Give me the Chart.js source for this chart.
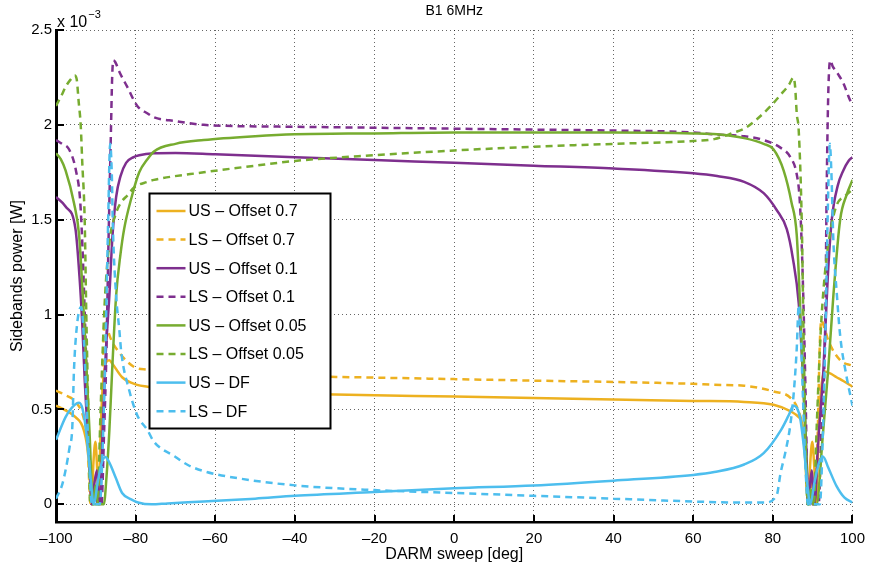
<!DOCTYPE html>
<html>
<head>
<meta charset="utf-8">
<script src="https://cdn.jsdelivr.net/npm/chart.js@4.4.1/dist/chart.umd.min.js"></script>
<style>
  html, body { margin: 0; padding: 0; background: #fff; }
</style>
</head>
<body>
<canvas id="sidebandChart" width="873" height="570"></canvas>
<script>
// axis ticks (power values are in units of 1e-3 W)
const sweepTicks = [-100, -80, -60, -40, -20, 0, 20, 40, 60, 80, 100];
const powerTicks = [0, 0.5, 1, 1.5, 2, 2.5];

const seriesLabels = [
  "US \u2013 Offset 0.7",
  "LS \u2013 Offset 0.7",
  "US \u2013 Offset 0.1",
  "LS \u2013 Offset 0.1",
  "US \u2013 Offset 0.05",
  "LS \u2013 Offset 0.05",
  "US \u2013 DF",
  "LS \u2013 DF",
];

// [sweep deg, power x1e-3 W]
const usOffset07 = [[-100,0.52],[-97.6,0.495],[-95.1,0.46],[-93,0.39],[-91.8,0.24],[-91.1,0],[-90.6,0.22],[-90.1,0.33],[-89.7,0.2],[-89.3,0],[-88.8,0.38],[-88.2,0.64],[-87.4,0.75],[-86.6,0.76],[-85.8,0.74],[-83.4,0.67],[-79.6,0.63],[-77,0.62],[-70,0.6],[-60,0.59],[-40,0.583],[-20,0.575],[0,0.568],[20,0.56],[40,0.553],[60,0.545],[72.8,0.54],[80.2,0.525],[84.5,0.49],[86.5,0.46],[87.3,0.43],[88,0.28],[88.9,0],[89.4,0.22],[89.9,0.33],[90.4,0.2],[90.9,0],[91.5,0.38],[92.2,0.62],[93,0.7],[94.4,0.69],[96,0.67],[97.7,0.65],[100,0.62]];
const lsOffset07 = [[-100,0.6],[-97.6,0.575],[-95.1,0.54],[-93,0.45],[-92.1,0.33],[-91.3,0],[-90.4,0.12],[-89.4,0],[-88.7,0.3],[-88.2,0.75],[-87.8,0.97],[-87.2,0.93],[-86,0.86],[-84.1,0.8],[-82,0.75],[-80,0.72],[-77,0.71],[-70,0.69],[-60,0.68],[-40,0.675],[-20,0.668],[0,0.66],[20,0.652],[40,0.645],[60,0.635],[65.3,0.63],[72.8,0.625],[80.2,0.595],[84.5,0.56],[86.5,0.49],[87.5,0.4],[88.3,0.2],[88.9,0],[89.8,0.12],[90.7,0],[91.3,0.4],[91.8,0.85],[92.2,0.97],[92.8,0.94],[94,0.86],[96.9,0.76],[100,0.73]];
const usOffset01 = [[-100,1.62],[-97.6,1.57],[-95.1,1.45],[-94.1,1.2],[-93.4,0.95],[-92.8,0.66],[-91.8,0.3],[-90.9,0],[-90.3,0.12],[-89.7,0.18],[-89.3,0.05],[-89,0],[-88.2,0.45],[-87.5,0.8],[-86.6,1.1],[-85.8,1.42],[-84.9,1.62],[-83.8,1.73],[-82.4,1.8],[-80.5,1.83],[-79.1,1.84],[-75.4,1.85],[-70,1.852],[-60,1.845],[-40,1.83],[-20,1.815],[0,1.8],[20,1.785],[40,1.77],[60,1.745],[66,1.73],[72.8,1.7],[77.7,1.64],[81,1.55],[83.5,1.45],[85,1.3],[86.5,1.06],[87.5,0.7],[88.3,0.35],[89,0],[89.4,0.12],[89.8,0.18],[90.2,0.05],[90.5,0],[91.3,0.3],[92.7,0.71],[93.8,1.2],[94.8,1.5],[96.3,1.68],[97.7,1.76],[99,1.81],[100,1.83]];
const lsOffset01 = [[-100,1.92],[-98.5,1.9],[-96.7,1.87],[-95,1.76],[-93.9,1.59],[-93.2,1.27],[-92.4,0.75],[-91.6,0.25],[-91,0],[-90.2,0.08],[-89.4,0],[-88.6,0],[-87.9,0.4],[-87.4,0.75],[-86.8,1.4],[-86.2,1.97],[-85.9,2.25],[-85.6,2.34],[-85.1,2.33],[-84.1,2.28],[-82.1,2.2],[-79.6,2.1],[-77,2.06],[-75.4,2.04],[-70,2.02],[-62.9,2.0],[-40,1.99],[-20,1.985],[0,1.98],[20,1.975],[40,1.97],[60,1.96],[65.3,1.95],[72.8,1.94],[77.7,1.92],[81.9,1.88],[84.4,1.83],[86,1.74],[86.7,1.62],[87.2,1.4],[87.7,1.05],[88.2,0.6],[88.8,0],[89.4,0.08],[90,0],[91.5,0],[92.2,0.4],[92.9,0.7],[93.2,1.0],[93.5,1.62],[93.9,2.15],[94.4,2.34],[95,2.31],[96.3,2.27],[97.7,2.22],[99,2.15],[100,2.1]];
const usOffset005 = [[-100,1.85],[-98.8,1.82],[-97.6,1.76],[-95.5,1.59],[-94.2,1.42],[-93.4,1.15],[-92.8,0.92],[-91.6,0.39],[-90.7,0],[-90.1,0.1],[-89.4,0],[-88,0],[-87.3,0.15],[-86.6,0.39],[-85.8,0.75],[-84.9,1.1],[-83.8,1.32],[-82.9,1.45],[-81,1.62],[-79.1,1.75],[-77,1.82],[-75.4,1.86],[-70,1.9],[-62.9,1.92],[-50,1.94],[-40,1.95],[-20,1.955],[0,1.96],[20,1.96],[40,1.96],[60,1.955],[66,1.95],[72.8,1.93],[77.7,1.9],[80.2,1.87],[82.7,1.76],[84.7,1.59],[86,1.42],[87,0.97],[88,0.45],[88.9,0],[89.5,0.08],[90.1,0],[91,0],[92.5,0.35],[93.9,0.71],[95.2,1.1],[96.9,1.5],[98.5,1.63],[100,1.71]];
const lsOffset005 = [[-100,2.1],[-98.5,2.16],[-97.6,2.2],[-96.3,2.24],[-95.3,2.26],[-94.8,2.24],[-94.3,2.12],[-93.8,2.0],[-93.4,1.8],[-92.8,1.5],[-92.4,1.01],[-91.9,0.5],[-91.4,0],[-89.6,0],[-88.8,0.5],[-87.8,1.05],[-86.6,1.38],[-85,1.53],[-83.7,1.59],[-82,1.63],[-80.4,1.67],[-77,1.7],[-75.4,1.71],[-62.9,1.75],[-50,1.785],[-40,1.81],[-20,1.84],[0,1.865],[20,1.885],[40,1.9],[60,1.915],[65.3,1.925],[70.3,1.96],[72.8,1.98],[76,2.03],[79.5,2.1],[82,2.16],[84,2.21],[85.2,2.25],[85.6,2.2],[86,2.06],[86.5,1.97],[87.3,1.45],[87.7,0.9],[88.3,0.3],[88.7,0],[90.3,0],[91,0.4],[92,0.9],[93,1.2],[94.3,1.42],[95.9,1.57],[98.4,1.63],[100,1.66]];
const usDF = [[-100,0.34],[-97.6,0.46],[-96,0.51],[-94.2,0.535],[-93.3,0.5],[-92.4,0.38],[-91.5,0.18],[-90.5,0],[-89.5,0.12],[-88.5,0.22],[-87.6,0.25],[-86.6,0.22],[-85,0.14],[-83.4,0.06],[-81,0.025],[-79.4,0.01],[-76,0],[-72,0.005],[-62.9,0.015],[-50,0.03],[-40,0.045],[-20,0.065],[0,0.085],[20,0.1],[40,0.125],[60,0.155],[65.3,0.17],[72.8,0.21],[77.7,0.27],[82,0.39],[84,0.47],[85.2,0.52],[86,0.51],[86.9,0.45],[87.8,0.3],[88.6,0.12],[89.4,0],[90.5,0.12],[91.6,0.22],[92.7,0.25],[93.8,0.2],[96,0.096],[98,0.035],[100,0.01]];
const lsDF = [[-100,0.03],[-98.5,0.1],[-97.6,0.18],[-96.6,0.3],[-95.9,0.41],[-95.5,0.7],[-94.7,0.95],[-93.7,1.04],[-93.2,0.95],[-92.4,0.57],[-91.6,0.2],[-91,0],[-89,0],[-88.2,0.35],[-87.5,0.9],[-86.9,1.5],[-86.4,1.9],[-86,1.75],[-85.7,1.45],[-84.9,1.1],[-84.1,0.92],[-83.6,0.8],[-81.6,0.6],[-79.6,0.47],[-77,0.39],[-75.4,0.33],[-70,0.25],[-67.1,0.21],[-62.9,0.175],[-55,0.14],[-40,0.1],[-20,0.075],[0,0.06],[20,0.045],[40,0.03],[60,0.015],[70,0.01],[78,0.01],[81,0.05],[81.9,0.16],[83.2,0.28],[84.4,0.42],[85.3,0.6],[86,0.82],[86.5,1.05],[87,0.9],[87.5,0.6],[88.2,0.2],[88.8,0],[91.8,0],[92.6,0.4],[93.3,1.0],[93.8,1.55],[94.3,1.9],[94.7,1.75],[95.2,1.39],[96.1,1.1],[96.9,0.89],[98.5,0.675],[100,0.52]];

const seriesValues = [usOffset07, lsOffset07, usOffset01, lsOffset01, usOffset005, lsOffset005, usDF, lsDF];
const seriesColors = ["#EDB120", "#EDB120", "#7E2F8E", "#7E2F8E", "#77AC30", "#77AC30", "#4DBEEE", "#4DBEEE"];
const dashPattern = [7, 5];

const fontFamily = '"Liberation Sans", Arial, Helvetica, sans-serif';
Chart.defaults.font.family = fontFamily;
Chart.defaults.color = "#000";

// MATLAB style bits: inward ticks, title, x10^-3 multiplier, boxed legend
const matlabDecor = {
  id: "matlabDecor",
  afterDraw(chart) {
    const ctx = chart.ctx;
    const area = chart.chartArea;
    const xs = chart.scales.x;
    const ys = chart.scales.y;
    ctx.save();
    ctx.strokeStyle = "#000";
    ctx.lineWidth = 2;
    ys.ticks.forEach(t => {
      const py = Math.round(ys.getPixelForValue(t.value));
      ctx.beginPath();
      ctx.moveTo(area.left, py);
      ctx.lineTo(area.left + 8, py);
      ctx.stroke();
    });
    xs.ticks.forEach(t => {
      const px = Math.round(xs.getPixelForValue(t.value));
      ctx.beginPath();
      ctx.moveTo(px, area.bottom);
      ctx.lineTo(px, area.bottom - 7);
      ctx.stroke();
    });

    ctx.fillStyle = "#000";
    ctx.font = "14px " + fontFamily;
    ctx.textAlign = "center";
    ctx.textBaseline = "middle";
    ctx.fillText("B1 6MHz", (area.left + area.right) / 2, 11);

    ctx.textAlign = "left";
    ctx.textBaseline = "alphabetic";
    ctx.font = "16px " + fontFamily;
    ctx.fillText("x 10", area.left + 1, 27);
    const w = ctx.measureText("x 10").width;
    ctx.font = "11px " + fontFamily;
    ctx.fillText("\u22123", area.left + 2 + w, 18);

    // legend box
    const lx = area.left + 93.5, ly = 193.5, lw = 181, lh = 235;
    ctx.fillStyle = "#fff";
    ctx.fillRect(lx, ly, lw, lh);
    ctx.lineWidth = 2;
    ctx.strokeStyle = "#000";
    ctx.strokeRect(lx, ly, lw, lh);
    chart.data.datasets.forEach((ds, i) => {
      const ry = ly + 17.5 + i * 28.6;
      ctx.strokeStyle = ds.borderColor;
      ctx.lineWidth = 2.5;
      ctx.setLineDash(ds.borderDash);
      ctx.beginPath();
      ctx.moveTo(lx + 7, ry);
      ctx.lineTo(lx + 36, ry);
      ctx.stroke();
      ctx.setLineDash([]);
      ctx.fillStyle = "#000";
      ctx.font = "16px " + fontFamily;
      ctx.textBaseline = "middle";
      ctx.fillText(ds.label, lx + 39, ry + 1);
    });
    ctx.restore();
  }
};

const datasets = seriesValues.map((vals, i) => ({
  label: seriesLabels[i],
  data: vals.map(p => ({ x: p[0], y: p[1] })),
  borderColor: seriesColors[i],
  borderWidth: 2.5,
  borderDash: i % 2 === 1 ? dashPattern : [],
  pointRadius: 0,
  fill: false,
  cubicInterpolationMode: "monotone",
  order: -i,
}));

const sidebandCanvas = document.getElementById("sidebandChart");
const sidebandChart = new Chart(sidebandCanvas, {
  type: "line",
  data: { datasets: datasets },
  plugins: [matlabDecor],
  options: {
    responsive: false,
    animation: false,
    layout: { padding: { top: 30, right: 14, left: 0, bottom: 0 } },
    plugins: {
      legend: { display: false },
      tooltip: { enabled: false },
    },
    scales: {
      x: {
        type: "linear",
        min: -100,
        max: 100,
        afterBuildTicks: scale => { scale.ticks = sweepTicks.map(v => ({ value: v })); },
        afterFit: scale => { scale.height = 48; },
        ticks: {
          font: { size: 15 },
          color: "#000",
          padding: 8,
          maxRotation: 0,
          callback: v => (v < 0 ? "\u2013" + Math.abs(v) : String(v)),
        },
        grid: { color: "rgba(0,0,0,0.6)", lineWidth: 1, drawTicks: false },
        border: { display: true, color: "#000", width: 2.5, dash: [1, 3] },
        title: { display: true, text: "DARM sweep [deg]", font: { size: 16 }, color: "#000", padding: { top: 0, bottom: 6 } },
      },
      y: {
        type: "linear",
        min: -0.093,
        max: 2.5,
        afterBuildTicks: scale => { scale.ticks = powerTicks.map(v => ({ value: v })); },
        afterFit: scale => { scale.width = 56; },
        ticks: {
          font: { size: 15 },
          color: "#000",
          padding: 4,
          callback: v => String(v),
        },
        grid: { color: "rgba(0,0,0,0.6)", lineWidth: 1, drawTicks: false },
        border: { display: true, color: "#000", width: 3, dash: [1, 3] },
        title: { display: true, text: "Sidebands power [W]", font: { size: 16 }, color: "#000", padding: { top: 8, bottom: 0 } },
      },
    },
  },
});
</script>
</body>
</html>
